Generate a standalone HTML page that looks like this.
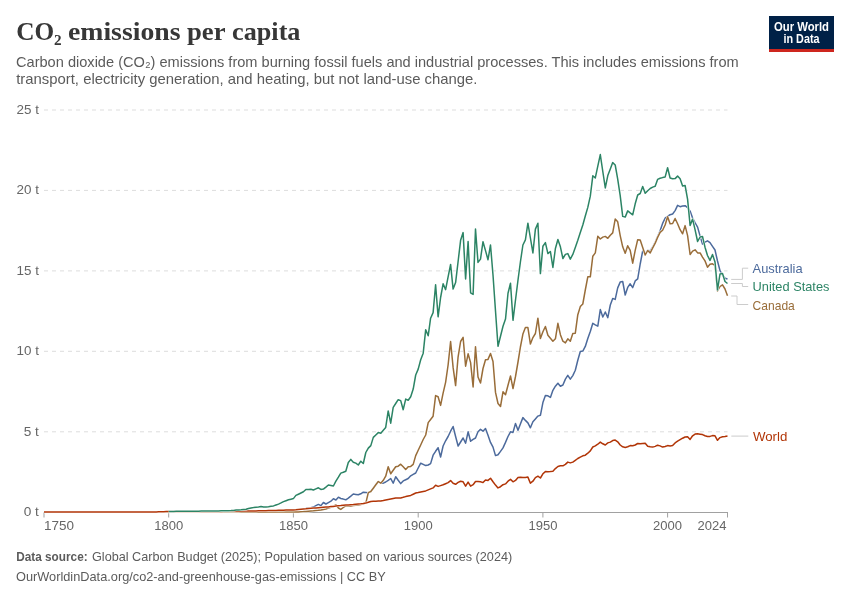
<!DOCTYPE html>
<html lang="en">
<head>
<meta charset="utf-8">
<title>CO₂ emissions per capita</title>
<style>
html,body{margin:0;padding:0;background:#fff;}
body{width:850px;height:600px;overflow:hidden;}
svg{display:block;}
.sans{font-family:"Liberation Sans",sans-serif;}
.serif{font-family:"Liberation Serif",serif;}
.tick{font-family:"Liberation Sans",sans-serif;font-size:12.8px;fill:#666;}
.lbl{font-family:"Liberation Sans",sans-serif;font-size:13px;}
.grid line{stroke:#ddd;stroke-width:1;stroke-dasharray:4 4;}
.series path{fill:none;stroke-width:1.5;stroke-linejoin:round;stroke-linecap:butt;}
.series path.o{stroke:#fff;stroke-width:2.5;}
.conn path{fill:none;stroke:#ccc;stroke-width:1;}
</style>
</head>
<body>
<svg width="850" height="600" viewBox="0 0 850 600">
<rect width="850" height="600" fill="#fff"/>
<!-- header -->
<g class="serif" font-size="26" font-weight="bold" fill="#373737">
<text x="16.2" y="39.6" textLength="45.5" lengthAdjust="spacingAndGlyphs">CO₂</text>
<text x="68" y="39.6" textLength="112.5" lengthAdjust="spacingAndGlyphs">emissions</text>
<text x="187" y="39.6" textLength="38.5" lengthAdjust="spacingAndGlyphs">per</text>
<text x="232" y="39.6" textLength="68.5" lengthAdjust="spacingAndGlyphs">capita</text>
</g>
<text class="sans" x="16" y="66.7" font-size="15" fill="#5b5b5b" textLength="722.7" lengthAdjust="spacingAndGlyphs">Carbon dioxide (CO₂) emissions from burning fossil fuels and industrial processes. This includes emissions from</text>
<text class="sans" x="16.2" y="84.2" font-size="15" fill="#5b5b5b" textLength="461.3" lengthAdjust="spacingAndGlyphs">transport, electricity generation, and heating, but not land-use change.</text>
<!-- logo -->
<g id="logo">
<rect x="769" y="16" width="65" height="36" fill="#002147"/>
<rect x="769" y="49" width="65" height="3" fill="#ce261e"/>
<text class="sans" x="801.5" y="30.7" font-size="12" font-weight="bold" fill="#fff" text-anchor="middle" textLength="55" lengthAdjust="spacingAndGlyphs">Our World</text>
<text class="sans" x="801.5" y="42.7" font-size="12" font-weight="bold" fill="#fff" text-anchor="middle" textLength="36" lengthAdjust="spacingAndGlyphs">in Data</text>
</g>
<!-- grid -->
<g class="grid">
<line x1="44" x2="727.5" y1="110" y2="110"/>
<line x1="44" x2="727.5" y1="190.4" y2="190.4"/>
<line x1="44" x2="727.5" y1="270.9" y2="270.9"/>
<line x1="44" x2="727.5" y1="351.3" y2="351.3"/>
<line x1="44" x2="727.5" y1="431.8" y2="431.8"/>
</g>
<g id="ylabels">
<text class="tick" x="16.5" y="114" textLength="22.4" lengthAdjust="spacingAndGlyphs">25 t</text>
<text class="tick" x="16.5" y="194.4" textLength="22.4" lengthAdjust="spacingAndGlyphs">20 t</text>
<text class="tick" x="16.5" y="274.9" textLength="22.4" lengthAdjust="spacingAndGlyphs">15 t</text>
<text class="tick" x="16.5" y="355.3" textLength="22.4" lengthAdjust="spacingAndGlyphs">10 t</text>
<text class="tick" x="23.7" y="435.8" textLength="15.2" lengthAdjust="spacingAndGlyphs">5 t</text>
<text class="tick" x="23.7" y="516.2" textLength="15.2" lengthAdjust="spacingAndGlyphs">0 t</text>
</g>
<!-- x axis -->
<g id="xaxis" stroke="#a1a1a1" stroke-width="1" fill="none">
<line x1="44" x2="728" y1="512.5" y2="512.5"/>
<line x1="44" x2="44" y1="512.5" y2="517.5"/>
<line x1="168.7" x2="168.7" y1="512.5" y2="517.5"/>
<line x1="293.4" x2="293.4" y1="512.5" y2="517.5"/>
<line x1="418.2" x2="418.2" y1="512.5" y2="517.5"/>
<line x1="542.9" x2="542.9" y1="512.5" y2="517.5"/>
<line x1="667.6" x2="667.6" y1="512.5" y2="517.5"/>
<line x1="727.5" x2="727.5" y1="512.5" y2="517.5"/>
</g>
<g id="xlabels">
<text class="tick" x="44" y="530.2" textLength="30" lengthAdjust="spacingAndGlyphs">1750</text>
<text class="tick" x="168.7" y="530.2" text-anchor="middle" textLength="29" lengthAdjust="spacingAndGlyphs">1800</text>
<text class="tick" x="293.4" y="530.2" text-anchor="middle" textLength="29" lengthAdjust="spacingAndGlyphs">1850</text>
<text class="tick" x="418.2" y="530.2" text-anchor="middle" textLength="29" lengthAdjust="spacingAndGlyphs">1900</text>
<text class="tick" x="542.9" y="530.2" text-anchor="middle" textLength="29" lengthAdjust="spacingAndGlyphs">1950</text>
<text class="tick" x="667.6" y="530.2" text-anchor="middle" textLength="29" lengthAdjust="spacingAndGlyphs">2000</text>
<text class="tick" x="726.6" y="530.2" text-anchor="end" textLength="29" lengthAdjust="spacingAndGlyphs">2024</text>
</g>
<!-- series -->
<g class="series">
<!--SERIES-->
<path class="o" d="M305.9 508.3L308.4 508.0L310.9 507.7L313.4 507.1L315.9 505.7L318.4 504.4L320.9 505.6L323.4 502.5L325.9 504.0L328.4 502.6L330.9 501.2L333.4 498.8L335.9 500.0L338.4 497.2L340.8 498.5L343.3 499.1L345.8 499.8L348.3 498.1L350.8 496.1L353.3 494.0L355.8 494.4L358.3 494.8L360.8 493.8L363.3 492.2L365.8 492.5L368.3 492.8L370.8 491.5L373.3 488.2L375.8 484.8L378.3 481.8L380.8 483.2L383.3 483.2L385.7 482.0L388.2 480.3L390.7 478.5L393.2 483.2L395.7 476.8L398.2 480.3L400.7 483.6L403.2 480.9L405.7 479.7L408.2 478.5L410.7 475.8L413.2 474.4L415.7 473.0L418.2 468.0L420.7 463.2L423.2 464.4L425.7 465.6L428.2 465.0L430.6 463.6L433.1 455.2L435.6 451.3L438.1 447.7L440.6 457.0L443.1 446.0L445.6 440.8L448.1 436.5L450.6 431.2L453.1 426.5L455.6 436.5L458.1 446.0L460.6 442.0L463.1 438.0L465.6 443.2L468.1 431.8L470.6 441.2L473.1 439.4L475.5 438.0L478.0 431.8L480.5 429.4L483.0 431.2L485.5 428.5L488.0 435.3L490.5 442.4L493.0 447.1L495.5 455.6L498.0 454.7L500.5 451.4L503.0 447.9L505.5 442.4L508.0 436.5L510.5 431.8L513.0 432.4L515.5 423.5L518.0 430.2L520.4 423.9L522.9 417.6L525.4 420.4L527.9 422.9L530.4 427.8L532.9 421.8L535.4 418.9L537.9 416.1L540.4 415.3L542.9 402.6L545.4 395.6L547.9 395.8L550.4 397.4L552.9 390.3L555.4 386.2L557.9 383.2L560.4 386.2L562.9 385.0L565.4 379.1L567.8 375.4L570.3 379.1L572.8 375.6L575.3 370.3L577.8 360.3L580.3 351.5L582.8 351.1L585.3 346.4L587.8 338.5L590.3 331.5L592.8 323.3L595.3 324.8L597.8 326.2L600.3 309.6L602.8 317.0L605.3 312.0L607.8 317.7L610.3 305.0L612.7 298.5L615.2 299.4L617.7 287.9L620.2 282.1L622.7 281.5L625.2 295.0L627.7 287.4L630.2 283.8L632.7 287.6L635.2 280.9L637.7 278.9L640.2 264.0L642.7 251.0L645.2 253.5L647.7 250.5L650.2 250.8L652.7 247.0L655.2 242.0L657.6 236.5L660.1 230.8L662.6 223.4L665.1 218.2L667.6 216.4L670.1 214.7L672.6 214.0L675.1 210.6L677.6 205.4L680.1 206.7L682.6 206.0L685.1 205.7L687.6 207.7L690.1 211.1L692.6 218.0L695.1 222.9L697.6 227.1L700.1 236.1L702.5 244.1L705.0 242.2L707.5 240.8L710.0 242.6L712.5 246.3L715.0 250.0L717.5 261.0L720.0 270.6L722.5 275.0L725.0 278.3L727.5 279.0"/>
<path d="M305.9 508.3L308.4 508.0L310.9 507.7L313.4 507.1L315.9 505.7L318.4 504.4L320.9 505.6L323.4 502.5L325.9 504.0L328.4 502.6L330.9 501.2L333.4 498.8L335.9 500.0L338.4 497.2L340.8 498.5L343.3 499.1L345.8 499.8L348.3 498.1L350.8 496.1L353.3 494.0L355.8 494.4L358.3 494.8L360.8 493.8L363.3 492.2L365.8 492.5L368.3 492.8L370.8 491.5L373.3 488.2L375.8 484.8L378.3 481.8L380.8 483.2L383.3 483.2L385.7 482.0L388.2 480.3L390.7 478.5L393.2 483.2L395.7 476.8L398.2 480.3L400.7 483.6L403.2 480.9L405.7 479.7L408.2 478.5L410.7 475.8L413.2 474.4L415.7 473.0L418.2 468.0L420.7 463.2L423.2 464.4L425.7 465.6L428.2 465.0L430.6 463.6L433.1 455.2L435.6 451.3L438.1 447.7L440.6 457.0L443.1 446.0L445.6 440.8L448.1 436.5L450.6 431.2L453.1 426.5L455.6 436.5L458.1 446.0L460.6 442.0L463.1 438.0L465.6 443.2L468.1 431.8L470.6 441.2L473.1 439.4L475.5 438.0L478.0 431.8L480.5 429.4L483.0 431.2L485.5 428.5L488.0 435.3L490.5 442.4L493.0 447.1L495.5 455.6L498.0 454.7L500.5 451.4L503.0 447.9L505.5 442.4L508.0 436.5L510.5 431.8L513.0 432.4L515.5 423.5L518.0 430.2L520.4 423.9L522.9 417.6L525.4 420.4L527.9 422.9L530.4 427.8L532.9 421.8L535.4 418.9L537.9 416.1L540.4 415.3L542.9 402.6L545.4 395.6L547.9 395.8L550.4 397.4L552.9 390.3L555.4 386.2L557.9 383.2L560.4 386.2L562.9 385.0L565.4 379.1L567.8 375.4L570.3 379.1L572.8 375.6L575.3 370.3L577.8 360.3L580.3 351.5L582.8 351.1L585.3 346.4L587.8 338.5L590.3 331.5L592.8 323.3L595.3 324.8L597.8 326.2L600.3 309.6L602.8 317.0L605.3 312.0L607.8 317.7L610.3 305.0L612.7 298.5L615.2 299.4L617.7 287.9L620.2 282.1L622.7 281.5L625.2 295.0L627.7 287.4L630.2 283.8L632.7 287.6L635.2 280.9L637.7 278.9L640.2 264.0L642.7 251.0L645.2 253.5L647.7 250.5L650.2 250.8L652.7 247.0L655.2 242.0L657.6 236.5L660.1 230.8L662.6 223.4L665.1 218.2L667.6 216.4L670.1 214.7L672.6 214.0L675.1 210.6L677.6 205.4L680.1 206.7L682.6 206.0L685.1 205.7L687.6 207.7L690.1 211.1L692.6 218.0L695.1 222.9L697.6 227.1L700.1 236.1L702.5 244.1L705.0 242.2L707.5 240.8L710.0 242.6L712.5 246.3L715.0 250.0L717.5 261.0L720.0 270.6L722.5 275.0L725.0 278.3L727.5 279.0" stroke="#4c6a9c"/>
<path class="o" d="M131.3 512.1L133.8 512.1L136.3 512.1L138.8 512.1L141.3 512.1L143.8 512.1L146.3 512.1L148.8 512.1L151.3 512.1L153.8 512.1L156.3 512.1L158.7 512.1L161.2 512.1L163.7 512.1L166.2 512.1L168.7 512.1L171.2 512.1L173.7 512.1L176.2 512.1L178.7 512.1L181.2 512.1L183.7 512.1L186.2 512.1L188.7 512.1L191.2 512.1L193.7 512.1L196.2 512.1L198.7 512.1L201.2 512.1L203.6 512.1L206.1 512.1L208.6 512.1L211.1 512.1L213.6 512.1L216.1 512.1L218.6 512.1L221.1 512.1L223.6 512.1L226.1 512.1L228.6 512.1L231.1 512.1L233.6 512.1L236.1 512.1L238.6 512.1L241.1 512.1L243.6 512.1L246.1 512.1L248.5 512.1L251.0 512.1L253.5 512.1L256.0 512.1L258.5 512.1L261.0 512.1L263.5 512.1L266.0 512.1L268.5 512.1L271.0 512.1L273.5 512.1L276.0 512.1L278.5 512.1L281.0 512.1L283.5 512.1L286.0 512.1L288.5 512.1L291.0 512.1L293.4 512.1L295.9 512.1L298.4 511.9L300.9 511.7L303.4 511.6L305.9 511.4L308.4 511.2L310.9 511.0L313.4 510.8L315.9 510.5L318.4 510.3L320.9 509.9L323.4 509.4L325.9 509.0L328.4 508.1L330.9 507.3L333.4 506.1L335.9 504.8L338.4 508.0L340.8 509.4L343.3 507.5L345.8 505.8L348.3 505.9L350.8 506.0L353.3 505.6L355.8 505.2L358.3 504.9L360.8 504.5L363.3 503.8L365.8 503.1L368.3 492.6L370.8 491.5L373.3 488.2L375.8 484.8L378.3 481.5L380.8 483.2L383.3 480.3L385.7 476.2L388.2 466.8L390.7 473.8L393.2 470.3L395.7 466.8L398.2 466.2L400.7 464.2L403.2 466.8L405.7 469.5L408.2 466.8L410.7 466.4L413.2 464.4L415.7 455.6L418.2 450.3L420.7 445.0L423.2 439.5L425.7 435.0L428.2 422.6L430.6 419.5L433.1 416.2L435.6 395.6L438.1 396.8L440.6 405.4L443.1 393.2L445.6 382.3L448.1 365.0L450.6 341.5L453.1 367.4L455.6 385.6L458.1 356.8L460.6 341.5L463.1 337.4L465.6 366.2L468.1 353.8L470.6 362.6L473.1 387.0L475.5 346.8L478.0 377.0L480.5 383.0L483.0 368.5L485.5 359.7L488.0 359.4L490.5 353.5L493.0 361.5L495.5 392.4L498.0 403.5L500.5 406.5L503.0 391.8L505.5 394.7L508.0 385.3L510.5 375.9L513.0 388.6L515.5 376.5L518.0 362.0L520.4 347.0L522.9 334.1L525.4 327.6L527.9 327.6L530.4 344.1L532.9 337.6L535.4 333.5L537.9 318.2L540.4 338.6L542.9 331.8L545.4 326.5L547.9 335.3L550.4 338.2L552.9 341.2L555.4 338.8L557.9 323.3L560.4 334.7L562.9 341.2L565.4 342.9L567.8 338.8L570.3 341.2L572.8 333.5L575.3 333.2L577.8 314.7L580.3 306.6L582.8 304.0L585.3 290.0L587.8 276.8L590.3 276.8L592.8 256.2L595.3 252.9L597.8 236.2L600.3 239.0L602.8 237.1L605.3 236.4L607.8 238.3L610.3 235.2L612.7 232.9L615.2 219.1L617.7 221.8L620.2 235.6L622.7 246.8L625.2 253.2L627.7 245.8L630.2 250.3L632.7 263.2L635.2 250.3L637.7 239.7L640.2 239.9L642.7 247.4L645.2 255.0L647.7 250.5L650.2 252.9L652.7 247.9L655.2 243.2L657.6 237.4L660.1 232.4L662.6 230.3L665.1 225.0L667.6 216.8L670.1 223.8L672.6 223.5L675.1 218.5L677.6 223.8L680.1 229.7L682.6 233.8L685.1 225.6L687.6 235.6L690.1 254.5L692.6 251.1L695.1 249.8L697.6 252.9L700.1 252.9L702.5 257.1L705.0 260.9L707.5 267.2L710.0 264.3L712.5 263.8L715.0 265.3L717.5 290.9L720.0 286.5L722.5 284.8L725.0 289.0L727.5 295.7"/>
<path d="M131.3 512.1L133.8 512.1L136.3 512.1L138.8 512.1L141.3 512.1L143.8 512.1L146.3 512.1L148.8 512.1L151.3 512.1L153.8 512.1L156.3 512.1L158.7 512.1L161.2 512.1L163.7 512.1L166.2 512.1L168.7 512.1L171.2 512.1L173.7 512.1L176.2 512.1L178.7 512.1L181.2 512.1L183.7 512.1L186.2 512.1L188.7 512.1L191.2 512.1L193.7 512.1L196.2 512.1L198.7 512.1L201.2 512.1L203.6 512.1L206.1 512.1L208.6 512.1L211.1 512.1L213.6 512.1L216.1 512.1L218.6 512.1L221.1 512.1L223.6 512.1L226.1 512.1L228.6 512.1L231.1 512.1L233.6 512.1L236.1 512.1L238.6 512.1L241.1 512.1L243.6 512.1L246.1 512.1L248.5 512.1L251.0 512.1L253.5 512.1L256.0 512.1L258.5 512.1L261.0 512.1L263.5 512.1L266.0 512.1L268.5 512.1L271.0 512.1L273.5 512.1L276.0 512.1L278.5 512.1L281.0 512.1L283.5 512.1L286.0 512.1L288.5 512.1L291.0 512.1L293.4 512.1L295.9 512.1L298.4 511.9L300.9 511.7L303.4 511.6L305.9 511.4L308.4 511.2L310.9 511.0L313.4 510.8L315.9 510.5L318.4 510.3L320.9 509.9L323.4 509.4L325.9 509.0L328.4 508.1L330.9 507.3L333.4 506.1L335.9 504.8L338.4 508.0L340.8 509.4L343.3 507.5L345.8 505.8L348.3 505.9L350.8 506.0L353.3 505.6L355.8 505.2L358.3 504.9L360.8 504.5L363.3 503.8L365.8 503.1L368.3 492.6L370.8 491.5L373.3 488.2L375.8 484.8L378.3 481.5L380.8 483.2L383.3 480.3L385.7 476.2L388.2 466.8L390.7 473.8L393.2 470.3L395.7 466.8L398.2 466.2L400.7 464.2L403.2 466.8L405.7 469.5L408.2 466.8L410.7 466.4L413.2 464.4L415.7 455.6L418.2 450.3L420.7 445.0L423.2 439.5L425.7 435.0L428.2 422.6L430.6 419.5L433.1 416.2L435.6 395.6L438.1 396.8L440.6 405.4L443.1 393.2L445.6 382.3L448.1 365.0L450.6 341.5L453.1 367.4L455.6 385.6L458.1 356.8L460.6 341.5L463.1 337.4L465.6 366.2L468.1 353.8L470.6 362.6L473.1 387.0L475.5 346.8L478.0 377.0L480.5 383.0L483.0 368.5L485.5 359.7L488.0 359.4L490.5 353.5L493.0 361.5L495.5 392.4L498.0 403.5L500.5 406.5L503.0 391.8L505.5 394.7L508.0 385.3L510.5 375.9L513.0 388.6L515.5 376.5L518.0 362.0L520.4 347.0L522.9 334.1L525.4 327.6L527.9 327.6L530.4 344.1L532.9 337.6L535.4 333.5L537.9 318.2L540.4 338.6L542.9 331.8L545.4 326.5L547.9 335.3L550.4 338.2L552.9 341.2L555.4 338.8L557.9 323.3L560.4 334.7L562.9 341.2L565.4 342.9L567.8 338.8L570.3 341.2L572.8 333.5L575.3 333.2L577.8 314.7L580.3 306.6L582.8 304.0L585.3 290.0L587.8 276.8L590.3 276.8L592.8 256.2L595.3 252.9L597.8 236.2L600.3 239.0L602.8 237.1L605.3 236.4L607.8 238.3L610.3 235.2L612.7 232.9L615.2 219.1L617.7 221.8L620.2 235.6L622.7 246.8L625.2 253.2L627.7 245.8L630.2 250.3L632.7 263.2L635.2 250.3L637.7 239.7L640.2 239.9L642.7 247.4L645.2 255.0L647.7 250.5L650.2 252.9L652.7 247.9L655.2 243.2L657.6 237.4L660.1 232.4L662.6 230.3L665.1 225.0L667.6 216.8L670.1 223.8L672.6 223.5L675.1 218.5L677.6 223.8L680.1 229.7L682.6 233.8L685.1 225.6L687.6 235.6L690.1 254.5L692.6 251.1L695.1 249.8L697.6 252.9L700.1 252.9L702.5 257.1L705.0 260.9L707.5 267.2L710.0 264.3L712.5 263.8L715.0 265.3L717.5 290.9L720.0 286.5L722.5 284.8L725.0 289.0L727.5 295.7" stroke="#996d39"/>
<path class="o" d="M44.0 512.0L46.5 512.0L49.0 512.0L51.5 512.0L54.0 512.0L56.5 512.0L59.0 512.0L61.5 512.0L64.0 512.0L66.5 512.0L68.9 512.0L71.4 512.0L73.9 512.0L76.4 512.0L78.9 512.0L81.4 512.0L83.9 512.0L86.4 512.0L88.9 512.0L91.4 512.0L93.9 512.0L96.4 512.0L98.9 512.0L101.4 512.0L103.9 512.0L106.4 512.0L108.9 512.0L111.4 512.0L113.8 512.0L116.3 512.0L118.8 512.0L121.3 512.0L123.8 512.0L126.3 512.0L128.8 512.0L131.3 512.0L133.8 512.0L136.3 512.0L138.8 512.0L141.3 512.0L143.8 512.0L146.3 512.0L148.8 512.0L151.3 512.0L153.8 512.0L156.3 511.9L158.7 511.8L161.2 511.7L163.7 511.7L166.2 511.6L168.7 511.6L171.2 511.6L173.7 511.6L176.2 511.6L178.7 511.6L181.2 511.6L183.7 511.5L186.2 511.5L188.7 511.5L191.2 511.5L193.7 511.5L196.2 511.5L198.7 511.5L201.2 511.5L203.6 511.5L206.1 511.4L208.6 511.4L211.1 511.4L213.6 511.4L216.1 511.4L218.6 511.4L221.1 511.4L223.6 511.3L226.1 511.3L228.6 511.3L231.1 511.2L233.6 511.2L236.1 511.2L238.6 511.2L241.1 511.1L243.6 511.1L246.1 511.1L248.5 511.0L251.0 511.0L253.5 510.9L256.0 510.9L258.5 510.8L261.0 510.8L263.5 510.7L266.0 510.7L268.5 510.6L271.0 510.5L273.5 510.5L276.0 510.4L278.5 510.3L281.0 510.2L283.5 510.2L286.0 510.1L288.5 510.0L291.0 510.0L293.4 509.9L295.9 509.7L298.4 509.4L300.9 509.2L303.4 509.0L305.9 508.8L308.4 508.5L310.9 508.3L313.4 508.1L315.9 507.9L318.4 507.7L320.9 507.5L323.4 507.3L325.9 507.1L328.4 506.9L330.9 506.6L333.4 506.4L335.9 506.1L338.4 505.8L340.8 505.6L343.3 505.3L345.8 505.1L348.3 504.9L350.8 504.7L353.3 504.5L355.8 504.2L358.3 504.0L360.8 503.8L363.3 503.5L365.8 503.1L368.3 502.3L370.8 501.5L373.3 501.3L375.8 501.2L378.3 501.0L380.8 500.9L383.3 500.6L385.7 500.0L388.2 499.4L390.7 498.9L393.2 498.4L395.7 497.9L398.2 497.9L400.7 497.9L403.2 497.3L405.7 496.6L408.2 496.0L410.7 495.4L413.2 494.2L415.7 493.0L418.2 492.5L420.7 491.9L423.2 491.4L425.7 490.9L428.2 489.9L430.6 488.9L433.1 487.9L435.6 485.2L438.1 486.4L440.6 485.6L443.1 484.8L445.6 483.7L448.1 482.6L450.6 480.6L453.1 483.2L455.6 484.3L458.1 482.4L460.6 481.2L463.1 481.8L465.6 486.2L468.1 482.1L470.6 486.2L473.1 484.7L475.5 481.5L478.0 481.5L480.5 481.8L483.0 482.6L485.5 480.0L488.0 480.4L490.5 478.2L493.0 481.8L495.5 485.1L498.0 487.9L500.5 486.7L503.0 484.7L505.5 483.9L508.0 481.2L510.5 479.4L513.0 481.8L515.5 480.4L518.0 477.6L520.4 477.3L522.9 477.6L525.4 477.4L527.9 477.1L530.4 483.2L532.9 481.2L535.4 477.6L537.9 476.2L540.4 478.0L542.9 473.8L545.4 471.6L547.9 471.7L550.4 471.5L552.9 471.2L555.4 468.6L557.9 466.5L560.4 465.8L562.9 465.8L565.4 464.4L567.8 462.1L570.3 462.9L572.8 462.1L575.3 460.3L577.8 458.5L580.3 457.1L582.8 455.8L585.3 455.2L587.8 453.2L590.3 450.9L592.8 447.0L595.3 445.9L597.8 444.2L600.3 442.1L602.8 443.8L605.3 445.0L607.8 442.9L610.3 442.1L612.7 440.6L615.2 440.1L617.7 441.8L620.2 445.0L622.7 446.8L625.2 447.4L627.7 446.8L630.2 445.6L632.7 445.8L635.2 445.0L637.7 443.5L640.2 443.8L642.7 443.4L645.2 443.2L647.7 446.2L650.2 446.8L652.7 447.1L655.2 446.4L657.6 445.2L660.1 445.9L662.6 447.1L665.1 446.5L667.6 445.6L670.1 445.9L672.6 445.6L675.1 442.9L677.6 441.2L680.1 439.7L682.6 438.2L685.1 437.0L687.6 436.8L690.1 439.4L692.6 435.8L695.1 434.1L697.6 433.8L700.1 434.2L702.5 434.6L705.0 435.8L707.5 436.5L710.0 436.4L712.5 435.6L715.0 435.8L717.5 440.3L720.0 437.6L722.5 436.8L725.0 436.4L727.5 435.9"/>
<path d="M44.0 512.0L46.5 512.0L49.0 512.0L51.5 512.0L54.0 512.0L56.5 512.0L59.0 512.0L61.5 512.0L64.0 512.0L66.5 512.0L68.9 512.0L71.4 512.0L73.9 512.0L76.4 512.0L78.9 512.0L81.4 512.0L83.9 512.0L86.4 512.0L88.9 512.0L91.4 512.0L93.9 512.0L96.4 512.0L98.9 512.0L101.4 512.0L103.9 512.0L106.4 512.0L108.9 512.0L111.4 512.0L113.8 512.0L116.3 512.0L118.8 512.0L121.3 512.0L123.8 512.0L126.3 512.0L128.8 512.0L131.3 512.0L133.8 512.0L136.3 512.0L138.8 512.0L141.3 512.0L143.8 512.0L146.3 512.0L148.8 512.0L151.3 512.0L153.8 512.0L156.3 511.9L158.7 511.8L161.2 511.7L163.7 511.7L166.2 511.6L168.7 511.6L171.2 511.6L173.7 511.6L176.2 511.6L178.7 511.6L181.2 511.6L183.7 511.5L186.2 511.5L188.7 511.5L191.2 511.5L193.7 511.5L196.2 511.5L198.7 511.5L201.2 511.5L203.6 511.5L206.1 511.4L208.6 511.4L211.1 511.4L213.6 511.4L216.1 511.4L218.6 511.4L221.1 511.4L223.6 511.3L226.1 511.3L228.6 511.3L231.1 511.2L233.6 511.2L236.1 511.2L238.6 511.2L241.1 511.1L243.6 511.1L246.1 511.1L248.5 511.0L251.0 511.0L253.5 510.9L256.0 510.9L258.5 510.8L261.0 510.8L263.5 510.7L266.0 510.7L268.5 510.6L271.0 510.5L273.5 510.5L276.0 510.4L278.5 510.3L281.0 510.2L283.5 510.2L286.0 510.1L288.5 510.0L291.0 510.0L293.4 509.9L295.9 509.7L298.4 509.4L300.9 509.2L303.4 509.0L305.9 508.8L308.4 508.5L310.9 508.3L313.4 508.1L315.9 507.9L318.4 507.7L320.9 507.5L323.4 507.3L325.9 507.1L328.4 506.9L330.9 506.6L333.4 506.4L335.9 506.1L338.4 505.8L340.8 505.6L343.3 505.3L345.8 505.1L348.3 504.9L350.8 504.7L353.3 504.5L355.8 504.2L358.3 504.0L360.8 503.8L363.3 503.5L365.8 503.1L368.3 502.3L370.8 501.5L373.3 501.3L375.8 501.2L378.3 501.0L380.8 500.9L383.3 500.6L385.7 500.0L388.2 499.4L390.7 498.9L393.2 498.4L395.7 497.9L398.2 497.9L400.7 497.9L403.2 497.3L405.7 496.6L408.2 496.0L410.7 495.4L413.2 494.2L415.7 493.0L418.2 492.5L420.7 491.9L423.2 491.4L425.7 490.9L428.2 489.9L430.6 488.9L433.1 487.9L435.6 485.2L438.1 486.4L440.6 485.6L443.1 484.8L445.6 483.7L448.1 482.6L450.6 480.6L453.1 483.2L455.6 484.3L458.1 482.4L460.6 481.2L463.1 481.8L465.6 486.2L468.1 482.1L470.6 486.2L473.1 484.7L475.5 481.5L478.0 481.5L480.5 481.8L483.0 482.6L485.5 480.0L488.0 480.4L490.5 478.2L493.0 481.8L495.5 485.1L498.0 487.9L500.5 486.7L503.0 484.7L505.5 483.9L508.0 481.2L510.5 479.4L513.0 481.8L515.5 480.4L518.0 477.6L520.4 477.3L522.9 477.6L525.4 477.4L527.9 477.1L530.4 483.2L532.9 481.2L535.4 477.6L537.9 476.2L540.4 478.0L542.9 473.8L545.4 471.6L547.9 471.7L550.4 471.5L552.9 471.2L555.4 468.6L557.9 466.5L560.4 465.8L562.9 465.8L565.4 464.4L567.8 462.1L570.3 462.9L572.8 462.1L575.3 460.3L577.8 458.5L580.3 457.1L582.8 455.8L585.3 455.2L587.8 453.2L590.3 450.9L592.8 447.0L595.3 445.9L597.8 444.2L600.3 442.1L602.8 443.8L605.3 445.0L607.8 442.9L610.3 442.1L612.7 440.6L615.2 440.1L617.7 441.8L620.2 445.0L622.7 446.8L625.2 447.4L627.7 446.8L630.2 445.6L632.7 445.8L635.2 445.0L637.7 443.5L640.2 443.8L642.7 443.4L645.2 443.2L647.7 446.2L650.2 446.8L652.7 447.1L655.2 446.4L657.6 445.2L660.1 445.9L662.6 447.1L665.1 446.5L667.6 445.6L670.1 445.9L672.6 445.6L675.1 442.9L677.6 441.2L680.1 439.7L682.6 438.2L685.1 437.0L687.6 436.8L690.1 439.4L692.6 435.8L695.1 434.1L697.6 433.8L700.1 434.2L702.5 434.6L705.0 435.8L707.5 436.5L710.0 436.4L712.5 435.6L715.0 435.8L717.5 440.3L720.0 437.6L722.5 436.8L725.0 436.4L727.5 435.9" stroke="#b13507"/>
<path class="o" d="M168.7 511.4L171.2 511.4L173.7 511.4L176.2 511.3L178.7 511.3L181.2 511.3L183.7 511.3L186.2 511.3L188.7 511.2L191.2 511.2L193.7 511.2L196.2 511.2L198.7 511.2L201.2 511.1L203.6 511.1L206.1 511.1L208.6 511.1L211.1 511.0L213.6 511.0L216.1 510.9L218.6 510.9L221.1 510.8L223.6 510.8L226.1 510.7L228.6 510.7L231.1 510.6L233.6 510.4L236.1 510.1L238.6 509.9L241.1 509.7L243.6 509.4L246.1 509.2L248.5 508.5L251.0 507.9L253.5 507.6L256.0 507.2L258.5 506.9L261.0 506.5L263.5 507.1L266.0 506.9L268.5 506.7L271.0 506.3L273.5 505.9L276.0 505.0L278.5 504.1L281.0 502.9L283.5 501.6L286.0 500.7L288.5 499.8L291.0 499.2L293.4 498.6L295.9 495.4L298.4 494.2L300.9 493.0L303.4 491.8L305.9 489.5L308.4 489.4L310.9 489.2L313.4 490.0L315.9 488.9L318.4 487.8L320.9 489.4L323.4 489.1L325.9 487.1L328.4 485.0L330.9 485.5L333.4 486.0L335.9 481.2L338.4 477.2L340.8 473.1L343.3 472.2L345.8 471.2L348.3 462.5L350.8 459.4L353.3 462.2L355.8 463.1L358.3 465.0L360.8 461.2L363.3 463.5L365.8 452.5L368.3 448.1L370.8 445.6L373.3 437.4L375.8 435.0L378.3 432.6L380.8 433.2L383.3 430.3L385.7 427.4L388.2 410.9L390.7 423.2L393.2 407.4L395.7 403.5L398.2 399.7L400.7 400.6L403.2 409.7L405.7 399.1L408.2 400.3L410.7 396.8L413.2 389.1L415.7 375.0L418.2 369.1L420.7 359.7L423.2 353.2L425.7 329.7L428.2 335.8L430.6 318.2L433.1 312.6L435.6 284.8L438.1 316.8L440.6 297.5L443.1 283.8L445.6 289.6L448.1 276.8L450.6 264.4L453.1 289.1L455.6 282.6L458.1 261.5L460.6 240.3L463.1 232.6L465.6 278.9L468.1 241.5L470.6 292.9L473.1 294.4L475.5 229.1L478.0 262.4L480.5 259.1L483.0 241.7L485.5 250.6L488.0 259.7L490.5 245.0L493.0 275.0L495.5 311.0L498.0 346.2L500.5 336.2L503.0 326.2L505.5 319.1L508.0 293.2L510.5 283.2L513.0 320.3L515.5 300.0L518.0 280.0L520.4 262.0L522.9 245.0L525.4 239.9L527.9 223.2L530.4 238.0L532.9 252.9L535.4 229.1L537.9 223.2L540.4 273.6L542.9 246.2L545.4 242.6L547.9 253.6L550.4 251.5L552.9 267.4L555.4 248.5L557.9 239.5L560.4 246.8L562.9 258.5L565.4 254.4L567.8 253.6L570.3 259.1L572.8 254.4L575.3 247.4L577.8 240.3L580.3 232.6L582.8 225.0L585.3 216.0L587.8 207.4L590.3 196.2L592.8 175.8L595.3 177.9L597.8 166.2L600.3 154.6L602.8 171.5L605.3 187.9L607.8 175.6L610.3 169.1L612.7 162.6L615.2 165.0L617.7 179.1L620.2 195.6L622.7 216.4L625.2 217.1L627.7 210.9L630.2 212.9L632.7 214.8L635.2 203.8L637.7 195.0L640.2 193.5L642.7 186.4L645.2 193.3L647.7 190.7L650.2 188.5L652.7 187.1L655.2 186.3L657.6 179.4L660.1 178.3L662.6 177.6L665.1 177.1L667.6 167.7L670.1 178.0L672.6 178.8L675.1 178.6L677.6 176.1L680.1 178.8L682.6 185.9L685.1 185.5L687.6 199.4L690.1 225.4L692.6 219.1L695.1 229.9L697.6 241.5L700.1 237.0L702.5 236.5L705.0 247.2L707.5 255.5L710.0 260.4L712.5 254.5L715.0 261.9L717.5 289.9L720.0 274.0L722.5 273.5L725.0 281.5L727.5 283.5"/>
<path d="M168.7 511.4L171.2 511.4L173.7 511.4L176.2 511.3L178.7 511.3L181.2 511.3L183.7 511.3L186.2 511.3L188.7 511.2L191.2 511.2L193.7 511.2L196.2 511.2L198.7 511.2L201.2 511.1L203.6 511.1L206.1 511.1L208.6 511.1L211.1 511.0L213.6 511.0L216.1 510.9L218.6 510.9L221.1 510.8L223.6 510.8L226.1 510.7L228.6 510.7L231.1 510.6L233.6 510.4L236.1 510.1L238.6 509.9L241.1 509.7L243.6 509.4L246.1 509.2L248.5 508.5L251.0 507.9L253.5 507.6L256.0 507.2L258.5 506.9L261.0 506.5L263.5 507.1L266.0 506.9L268.5 506.7L271.0 506.3L273.5 505.9L276.0 505.0L278.5 504.1L281.0 502.9L283.5 501.6L286.0 500.7L288.5 499.8L291.0 499.2L293.4 498.6L295.9 495.4L298.4 494.2L300.9 493.0L303.4 491.8L305.9 489.5L308.4 489.4L310.9 489.2L313.4 490.0L315.9 488.9L318.4 487.8L320.9 489.4L323.4 489.1L325.9 487.1L328.4 485.0L330.9 485.5L333.4 486.0L335.9 481.2L338.4 477.2L340.8 473.1L343.3 472.2L345.8 471.2L348.3 462.5L350.8 459.4L353.3 462.2L355.8 463.1L358.3 465.0L360.8 461.2L363.3 463.5L365.8 452.5L368.3 448.1L370.8 445.6L373.3 437.4L375.8 435.0L378.3 432.6L380.8 433.2L383.3 430.3L385.7 427.4L388.2 410.9L390.7 423.2L393.2 407.4L395.7 403.5L398.2 399.7L400.7 400.6L403.2 409.7L405.7 399.1L408.2 400.3L410.7 396.8L413.2 389.1L415.7 375.0L418.2 369.1L420.7 359.7L423.2 353.2L425.7 329.7L428.2 335.8L430.6 318.2L433.1 312.6L435.6 284.8L438.1 316.8L440.6 297.5L443.1 283.8L445.6 289.6L448.1 276.8L450.6 264.4L453.1 289.1L455.6 282.6L458.1 261.5L460.6 240.3L463.1 232.6L465.6 278.9L468.1 241.5L470.6 292.9L473.1 294.4L475.5 229.1L478.0 262.4L480.5 259.1L483.0 241.7L485.5 250.6L488.0 259.7L490.5 245.0L493.0 275.0L495.5 311.0L498.0 346.2L500.5 336.2L503.0 326.2L505.5 319.1L508.0 293.2L510.5 283.2L513.0 320.3L515.5 300.0L518.0 280.0L520.4 262.0L522.9 245.0L525.4 239.9L527.9 223.2L530.4 238.0L532.9 252.9L535.4 229.1L537.9 223.2L540.4 273.6L542.9 246.2L545.4 242.6L547.9 253.6L550.4 251.5L552.9 267.4L555.4 248.5L557.9 239.5L560.4 246.8L562.9 258.5L565.4 254.4L567.8 253.6L570.3 259.1L572.8 254.4L575.3 247.4L577.8 240.3L580.3 232.6L582.8 225.0L585.3 216.0L587.8 207.4L590.3 196.2L592.8 175.8L595.3 177.9L597.8 166.2L600.3 154.6L602.8 171.5L605.3 187.9L607.8 175.6L610.3 169.1L612.7 162.6L615.2 165.0L617.7 179.1L620.2 195.6L622.7 216.4L625.2 217.1L627.7 210.9L630.2 212.9L632.7 214.8L635.2 203.8L637.7 195.0L640.2 193.5L642.7 186.4L645.2 193.3L647.7 190.7L650.2 188.5L652.7 187.1L655.2 186.3L657.6 179.4L660.1 178.3L662.6 177.6L665.1 177.1L667.6 167.7L670.1 178.0L672.6 178.8L675.1 178.6L677.6 176.1L680.1 178.8L682.6 185.9L685.1 185.5L687.6 199.4L690.1 225.4L692.6 219.1L695.1 229.9L697.6 241.5L700.1 237.0L702.5 236.5L705.0 247.2L707.5 255.5L710.0 260.4L712.5 254.5L715.0 261.9L717.5 289.9L720.0 274.0L722.5 273.5L725.0 281.5L727.5 283.5" stroke="#2c8465"/>
<!--/SERIES-->
</g>
<!-- connectors -->
<g class="conn">
<path d="M731.2 279.4H742.4V268.2H748.2"/>
<path d="M731.2 283.5H742.4V286.5H748.2"/>
<path d="M731.2 296H737V304.5H748.2"/>
<path d="M731.3 436.1H748.3"/>
</g>
<g id="labels">
<text class="lbl" x="752.6" y="272.7" fill="#4c6a9c" textLength="50" lengthAdjust="spacingAndGlyphs">Australia</text>
<text class="lbl" x="752.6" y="291.3" fill="#2c8465" textLength="76.8" lengthAdjust="spacingAndGlyphs">United States</text>
<text class="lbl" x="752.6" y="309.7" fill="#996d39" textLength="42.2" lengthAdjust="spacingAndGlyphs">Canada</text>
<text class="lbl" x="752.9" y="440.8" fill="#b13507" textLength="34.4" lengthAdjust="spacingAndGlyphs">World</text>
</g>
<!-- footer -->
<text class="sans" x="16.3" y="560.5" font-size="13" font-weight="bold" fill="#5b5b5b" textLength="71.3" lengthAdjust="spacingAndGlyphs">Data source:</text>
<text class="sans" x="92" y="560.5" font-size="13" fill="#5b5b5b" textLength="420.2" lengthAdjust="spacingAndGlyphs">Global Carbon Budget (2025); Population based on various sources (2024)</text>
<text class="sans" x="16" y="580.5" font-size="13" fill="#5b5b5b" textLength="369.8" lengthAdjust="spacingAndGlyphs">OurWorldinData.org/co2-and-greenhouse-gas-emissions | CC BY</text>
</svg>
</body>
</html>
